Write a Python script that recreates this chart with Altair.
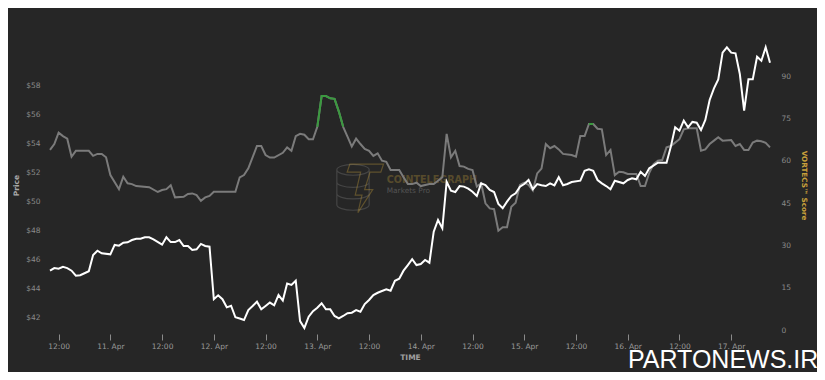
import altair as alt
import pandas as pd
from datetime import datetime, timedelta, timezone

# Hours relative to 10 Apr 12:00 (UTC)
score_hours = [-2, -1, 0, 1, 2, 3, 4, 7, 8, 9, 10, 11, 12, 14, 15, 16, 17, 18, 21, 23,
               24, 25, 26, 27, 29, 30, 31, 32, 33, 34, 35, 36, 41, 42, 43, 44, 46, 47, 48, 49,
               50, 52, 53, 54, 55, 56, 57, 58, 59, 60, 61, 62, 63, 64, 65, 66, 67, 68, 69, 70,
               71, 72, 73, 74, 75, 76, 77, 79, 80, 81, 82, 83, 84, 86, 87, 88, 89, 90, 91, 92,
               93, 94, 95, 96, 97, 98, 99, 100, 101, 102, 103, 104, 105, 106, 107, 108, 109, 110, 111, 112,
               113, 114, 115, 116, 117, 119, 120, 121, 122, 123, 124, 125, 126, 127, 128, 129, 130, 131, 132, 134,
               135, 136, 137, 138, 139, 140, 141, 142, 143, 144, 145, 146, 148, 149, 150, 151, 152, 153, 154, 156,
               157, 158, 159, 160, 161, 162, 163, 164, 165]
score_vals = [63.8, 65.9, 69.9, 68.7, 67.8, 61.4, 63.5, 63.5, 61.7, 62.4, 62.4, 61.2, 54.9, 49.9, 54.3, 52.0, 51.7, 51.0, 50.6, 48.9,
              49.6, 49.9, 51.3, 47.0, 47.2, 48.2, 48.4, 47.8, 45.8, 47.0, 47.5, 49.0, 49.0, 54.1, 54.9, 57.3, 65.2, 65.2, 62.0, 61.1,
              61.1, 62.8, 64.7, 63.5, 68.7, 69.5, 69.2, 67.6, 67.6, 72.0, 82.9, 82.9, 82.1, 81.9, 77.4, 72.0, 68.5, 65.0, 67.8, 65.9,
              64.2, 63.5, 61.7, 62.6, 60.0, 59.6, 56.7, 56.7, 54.1, 51.7, 51.7, 52.2, 51.0, 51.7, 51.7, 52.9, 54.1, 69.5, 61.2, 63.5,
              58.1, 57.9, 57.1, 56.7, 50.8, 52.0, 44.9, 43.1, 42.8, 35.2, 36.4, 36.4, 43.7, 45.1, 51.4, 52.2, 51.4, 49.4, 55.5, 57.2,
              65.9, 64.4, 65.2, 64.0, 62.4, 62.0, 61.4, 68.7, 68.7, 73.0, 73.0, 71.3, 71.1, 62.0, 63.8, 54.9, 56.1, 55.9, 55.3, 55.3,
              51.0, 51.0, 55.7, 58.8, 60.0, 60.2, 64.7, 65.2, 66.4, 67.6, 71.1, 71.5, 71.5, 63.5, 64.0, 65.9, 67.1, 68.3, 67.1, 67.3,
              65.2, 65.9, 63.8, 63.8, 66.4, 67.1, 66.9, 66.3, 64.7]

price_hours = [-2, -1, 0, 1, 2, 3, 4, 5, 6, 7, 8, 9, 10, 12, 13, 14, 15, 16, 17, 18,
               19, 20, 21, 22, 24, 25, 26, 27, 28, 29, 30, 31, 32, 33, 34, 35, 36, 37, 38, 39,
               40, 41, 42, 43, 44, 45, 46, 47, 48, 49, 50, 51, 52, 53, 54, 55, 56, 57, 58, 59,
               60, 61, 62, 63, 64, 65, 66, 67, 68, 69, 70, 71, 72, 73, 74, 75, 76, 77, 78, 79,
               80, 81, 82, 83, 84, 85, 86, 87, 88, 89, 90, 91, 92, 93, 94, 95, 96, 97, 98, 99,
               100, 101, 102, 103, 104, 105, 106, 107, 108, 109, 110, 111, 112, 113, 114, 115, 116, 117, 118, 119,
               121, 122, 123, 124, 125, 126, 127, 128, 129, 131, 132, 133, 134, 135, 136, 137, 139, 141, 142, 143,
               144, 145, 146, 147, 148, 149, 150, 151, 152, 153, 154, 155, 156, 157, 158, 159, 160, 161, 162, 163,
               164, 165]
price_vals = [45.21, 45.39, 45.35, 45.48, 45.39, 45.21, 44.86, 44.89, 45.03, 45.17, 46.29, 46.59, 46.41, 46.34, 46.99, 46.94, 47.15, 47.17, 47.33, 47.42,
              47.42, 47.52, 47.52, 47.38, 47.01, 47.52, 47.19, 47.19, 47.33, 46.92, 46.92, 46.64, 46.69, 47.06, 46.92, 46.87, 43.23, 43.50, 43.23, 42.67,
              42.78, 41.98, 41.90, 41.79, 42.48, 42.76, 43.06, 42.53, 42.76, 43.00, 42.81, 43.52, 43.14, 44.32, 44.22, 44.51, 41.72, 41.24, 42.02, 42.40,
              42.64, 42.95, 42.53, 42.53, 42.07, 41.91, 42.07, 42.26, 42.30, 42.48, 42.37, 42.90, 43.18, 43.52, 43.68, 43.80, 43.92, 43.82, 44.51, 44.65,
              45.21, 45.60, 46.00, 45.60, 45.67, 45.95, 45.76, 47.91, 48.72, 48.14, 51.37, 50.75, 50.66, 51.07, 51.03, 50.89, 50.68, 50.38, 51.26, 51.14,
              50.80, 50.66, 49.83, 49.53, 49.99, 50.38, 50.57, 51.03, 51.21, 51.49, 50.85, 51.21, 51.12, 51.07, 51.26, 51.12, 51.68, 51.12, 51.21, 51.35,
              51.44, 52.13, 52.23, 52.13, 51.49, 51.26, 51.07, 50.85, 51.44, 51.26, 51.49, 51.61, 51.54, 52.06, 51.77, 52.30, 52.69, 52.69, 53.80, 55.14,
              54.90, 55.60, 55.14, 55.51, 55.46, 54.95, 55.65, 57.03, 57.84, 58.46, 60.31, 60.68, 60.31, 60.26, 58.83, 56.29, 58.46, 58.46, 60.03, 59.75,
              60.68, 59.61]

price_ticks = [42, 44, 46, 48, 50, 52, 54, 56, 58]
score_ticks = [0, 15, 30, 45, 60, 75, 90]
HIGH_SCORE = 72.0

BASE = datetime(2022, 4, 10, 12, 0, tzinfo=timezone.utc)


def ms(h):
    return int((BASE + timedelta(hours=h)).timestamp() * 1000)


score_df = pd.DataFrame({"time": [ms(h) for h in score_hours], "score": score_vals})
price_df = pd.DataFrame({"time": [ms(h) for h in price_hours], "price": price_vals})

# green segments where the score is high
seg, segs, prev = 0, [], False
for v in score_vals:
    hi = v >= HIGH_SCORE
    if hi and not prev:
        seg += 1
    segs.append(seg if hi else 0)
    prev = hi
score_df["seg"] = segs
green_df = score_df[score_df["seg"] > 0]

xscale = alt.Scale(type="utc", domain=[ms(-2), ms(165)])
xaxis = alt.Axis(
    values=[ms(h) for h in range(0, 157, 12)],
    labelExpr="utcFormat(datum.value, '%H:%M') == '00:00' ? utcFormat(datum.value, '%-d. %b') : utcFormat(datum.value, '%H:%M')",
    title="TIME", orient="bottom", offset=4, tickSize=6, tickColor="#8a8a8a",
    domain=False, grid=False, labelColor="#9a9a9a", labelFontSize=7.5, labelPadding=2,
    titleColor="#a0a0a0", titleFontSize=7.5, titleFontWeight="bold", titlePadding=4,
)
pscale = alt.Scale(domain=[41.0996, 61.186], nice=False, zero=False)
paxis = alt.Axis(
    orient="left", values=price_ticks, labelExpr="'$' + datum.value", title="Price",
    domain=False, ticks=False, grid=False, labelColor="#8a8a8a", labelFontSize=7.5,
    labelPadding=10, titleColor="#a8a8a8", titleFontSize=7.5, titleFontWeight="bold",
    titlePadding=5,
)
sscale = alt.Scale(domain=[0, 102.76], nice=False, zero=False)
saxis = alt.Axis(
    orient="right", values=score_ticks, title="VORTECS™ Score",
    domain=False, ticks=False, grid=False, labelColor="#8a8a8a", labelFontSize=7.5,
    labelPadding=11, titleColor="#c9a13b", titleFontSize=7.2, titleFontWeight="bold",
    titlePadding=9,
)

# faint Cointelegraph watermark (logo + text)
COINS = ("M-0.6,-0.6 A0.6,0.2 0 1,1 0.6,-0.6 A0.6,0.2 0 1,1 -0.6,-0.6 "
         "M-0.6,-0.6 L-0.6,0.7 A0.6,0.2 0 0,0 0.6,0.7 L0.6,-0.6 "
         "M-0.6,-0.15 A0.6,0.2 0 0,0 0.6,-0.15 M-0.6,0.28 A0.6,0.2 0 0,0 0.6,0.28")
BOLT = ("M-0.6,-0.85 L0.65,-0.85 L0.55,-0.55 L0.15,-0.55 L-0.05,0.1 L0.25,0.1 "
        "L-0.3,0.95 L-0.15,0.3 L-0.4,0.3 L-0.2,-0.55 L-0.7,-0.55 Z")
one = pd.DataFrame({"k": [0]})
logo_coins = alt.Chart(one).mark_point(
    shape=COINS, filled=False, size=2900, stroke="#6a6a6a", strokeWidth=1.2, opacity=0.45
).encode(x=alt.value(303), y=alt.value(146))
logo_bolt = alt.Chart(one).mark_point(
    shape=BOLT, filled=False, size=2900, stroke="#c9a13b", strokeWidth=1.2, opacity=0.35
).encode(x=alt.value(316), y=alt.value(147))
wm1 = alt.Chart(pd.DataFrame({"t": ["COINTELEGRAPH"]})).mark_text(
    align="left", baseline="alphabetic", fontSize=9.6, fontWeight="bold", color="#c9a13b", opacity=0.3
).encode(text="t:N", x=alt.value(336.7), y=alt.value(142.7))
wm2 = alt.Chart(pd.DataFrame({"t": ["Markets Pro"]})).mark_text(
    align="left", baseline="alphabetic", fontSize=7.4, color="#8a8a8a", opacity=0.45
).encode(text="t:N", x=alt.value(336.7), y=alt.value(152.7))

gray = alt.Chart(score_df).mark_line(color="#7b7b7b", strokeWidth=2).encode(
    x=alt.X("time:T", scale=xscale, axis=xaxis),
    y=alt.Y("score:Q", scale=sscale, axis=saxis),
)
green = alt.Chart(green_df).mark_line(color="#3a9a3f", strokeWidth=2).encode(
    x=alt.X("time:T", scale=xscale, axis=xaxis),
    y=alt.Y("score:Q", scale=sscale, axis=saxis),
    detail="seg:N",
)
score_layer = alt.layer(gray, green)

price = alt.Chart(price_df).mark_line(color="#ffffff", strokeWidth=2).encode(
    x=alt.X("time:T", scale=xscale, axis=xaxis),
    y=alt.Y("price:Q", scale=pscale, axis=paxis),
)

stamp = alt.Chart(pd.DataFrame({"t": ["PARTONEWS.IR"]})).mark_text(
    align="left", baseline="alphabetic", fontSize=25, color="#ffffff", font="Liberation Sans"
).encode(text="t:N", x=alt.value(578), y=alt.value(328))

chart = alt.layer(logo_coins, logo_bolt, wm1, wm2, score_layer, price, stamp).resolve_scale(y="independent").properties(
    width=720, height=290,
    padding={"left": 42, "top": 32, "right": 47, "bottom": 42},
    autosize=alt.AutoSizeParams(type="none"),
).configure(background="#262626", font="DejaVu Sans").configure_view(strokeWidth=0)

chart.save("out.html", embed_options={"renderer": "svg", "actions": False})
